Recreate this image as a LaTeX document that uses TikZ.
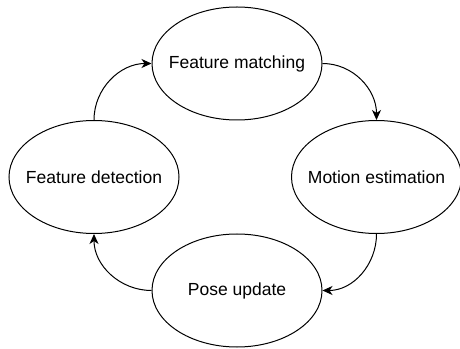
\documentclass[tikz,border=0pt]{standalone}
\usepackage{fontspec}
\setmainfont{Liberation Sans}
\usetikzlibrary{shapes.geometric,arrows.meta}
\newlength{\du}
\setlength{\du}{1pt}
\newcommand{\stagetext}[1]{\makebox[0pt]{#1}}
\tikzset{
  stage/.style={draw, ellipse, line width=1\du, minimum width=170\du,
    minimum height=113\du, inner sep=0pt, font=\fontsize{17.5}{20}\selectfont},
  flow/.style={line width=1\du, -{Stealth[length=10pt,width=9pt,inset=3pt]}}
}

\begin{document}
\begin{tikzpicture}
\useasboundingbox (0.000000\du,0.000000\du) rectangle (460.000000\du,348.000000\du);
% stages
\node[stage] (matching) at (237.000000\du,284.500000\du){\stagetext{Feature matching}};
\node[stage] (motion) at (376.500000\du,171.000000\du){\stagetext{Motion estimation}};
\node[stage] (pose) at (237.000000\du,57.500000\du){\stagetext{Pose update}};
\node[stage] (detection) at (94.000000\du,171.000000\du){\stagetext{Feature detection}};
% loop
\draw[flow] (matching.east) to[out=0,in=90] (motion.north);
\draw[flow] (motion.south) to[out=-90,in=0] (pose.east);
\draw[flow] (pose.west) to[out=180,in=-90] (detection.south);
\draw[flow] (detection.north) to[out=90,in=180] (matching.west);
\end{tikzpicture}
\end{document}
